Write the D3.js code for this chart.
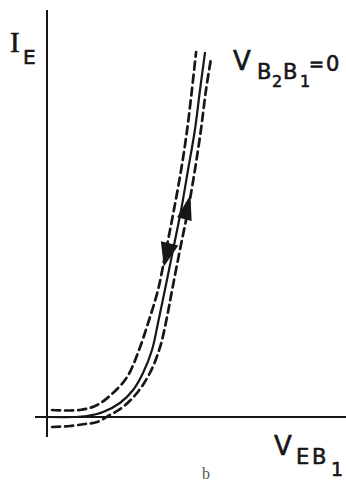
<!DOCTYPE html>
<html><head><meta charset="utf-8">
<script src="https://cdn.jsdelivr.net/npm/d3@7/dist/d3.min.js"></script>
<style>html,body{margin:0;padding:0;background:#fff;}svg{display:block;}</style>
</head><body>
<svg id="c" width="346" height="482"></svg>
<script>
// Data (V_EB1 in arbitrary units, I_E in arbitrary units)
const solidV = [0, 9.3, 13.3, 18.7, 24.3, 28.7, 32, 35, 37, 39.3, 42, 44.7, 47, 49.3, 51, 52.7];
const solidI = [0, 0, 0.25, 1.25, 3.5, 6.75, 11, 16.75, 23.5, 31.75, 41.75, 51.75, 61.75, 71.75, 81.75, 91.25];
const upperV = [1.7, 11, 16.7, 22, 26.7, 30.3, 33.7, 37, 39.7, 42.3, 44.7, 46.7, 48.3, 49.7];
const upperI = [1.75, 1.75, 3, 6, 10, 16, 23.5, 31.75, 41.75, 51.75, 61.75, 71.75, 81.75, 91.25];
const lowerV = [1.7, 7.7, 12.7, 16.7, 21, 25.3, 30, 34.3, 37.7, 40, 41.7, 44.3, 47, 49.3, 51.3, 53, 54.7];
const lowerI = [-2.5, -2.25, -1.75, -1.25, 0.5, 2.5, 6, 11, 17.5, 25, 31.75, 41.75, 51.75, 61.75, 71.75, 81.75, 89.75];
const arrowV = [46.8, 39.9];
const arrowI = [52.5, 40.5];
const arrowDir = ["up", "down"];
const axisVRange = [-4, 100];
const axisIRange = [-5, 101.75];

const svg = d3.select("#c");
const x = d3.scaleLinear().domain([0, 100]).range([47, 347]);
const y = d3.scaleLinear().domain([0, 100]).range([417, 17]);
const ink = "#161616";

// axes
svg.append("line").attr("x1", x(0)).attr("x2", x(0))
  .attr("y1", y(axisIRange[1])).attr("y2", y(axisIRange[0]))
  .attr("stroke", ink).attr("stroke-width", 2);
svg.append("line").attr("x1", x(axisVRange[0])).attr("x2", x(axisVRange[1]))
  .attr("y1", y(0)).attr("y2", y(0))
  .attr("stroke", ink).attr("stroke-width", 2);

const line = d3.line().x(d => x(d[0])).y(d => y(d[1])).curve(d3.curveCatmullRom.alpha(0.5));
const zip = (a, b) => a.map((v, i) => [v, b[i]]);

svg.append("path").attr("d", line(zip(solidV, solidI)))
  .attr("fill", "none").attr("stroke", ink).attr("stroke-width", 2.2);
[[upperV, upperI], [lowerV, lowerI]].forEach(([vs, is]) => {
  svg.append("path").attr("d", line(zip(vs, is)))
    .attr("fill", "none").attr("stroke", ink).attr("stroke-width", 2.7)
    .attr("stroke-dasharray", "8,5").attr("stroke-linecap", "round");
});

// arrows (filled triangles) oriented along the curve
arrowV.forEach((v, k) => {
  const cx = x(v), cy = y(arrowI[k]);
  const up = arrowDir[k] === "up";
  const ang = up ? 14 : 194; // tilt along curve
  const L = up ? 25 : 24, W = up ? 15 : 18;
  const pts = [[0, -L / 2], [-W / 2, L / 2], [W / 2, L / 2]];
  svg.append("polygon")
    .attr("points", pts.map(p => p.join(",")).join(" "))
    .attr("transform", `translate(${cx},${cy}) rotate(${ang})`)
    .attr("fill", ink);
});

const font = "'DejaVu Sans', sans-serif";
function t(txt, px, py, size, fam) {
  svg.append("text").attr("x", px).attr("y", py).attr("font-size", size)
    .attr("font-family", fam || font).attr("fill", ink)
    .attr("stroke", ink).attr("stroke-width", 0.6).text(txt);
}
// I_E
t("I", 10, 52, 29, "'Liberation Serif', serif");
t("E", 23, 64, 20);
// V_B2B1 = 0
t("V", 233, 70, 26);
t("B", 257, 79, 21);
t("2", 272, 87, 16);
t("B", 283, 79, 21);
t("1", 300, 87, 16);
t("=", 309, 70, 18);
t("0", 326, 71, 21);
// V_EB1
t("V", 274, 455, 26);
t("E", 296, 464, 21);
t("B", 312, 464, 21);
t("1", 331, 476, 19);
// panel label
svg.append("text").attr("x", 202).attr("y", 479).attr("font-size", 16)
  .attr("font-family", "'Liberation Serif', serif").attr("fill", "#555").text("b");
</script>
</body></html>
